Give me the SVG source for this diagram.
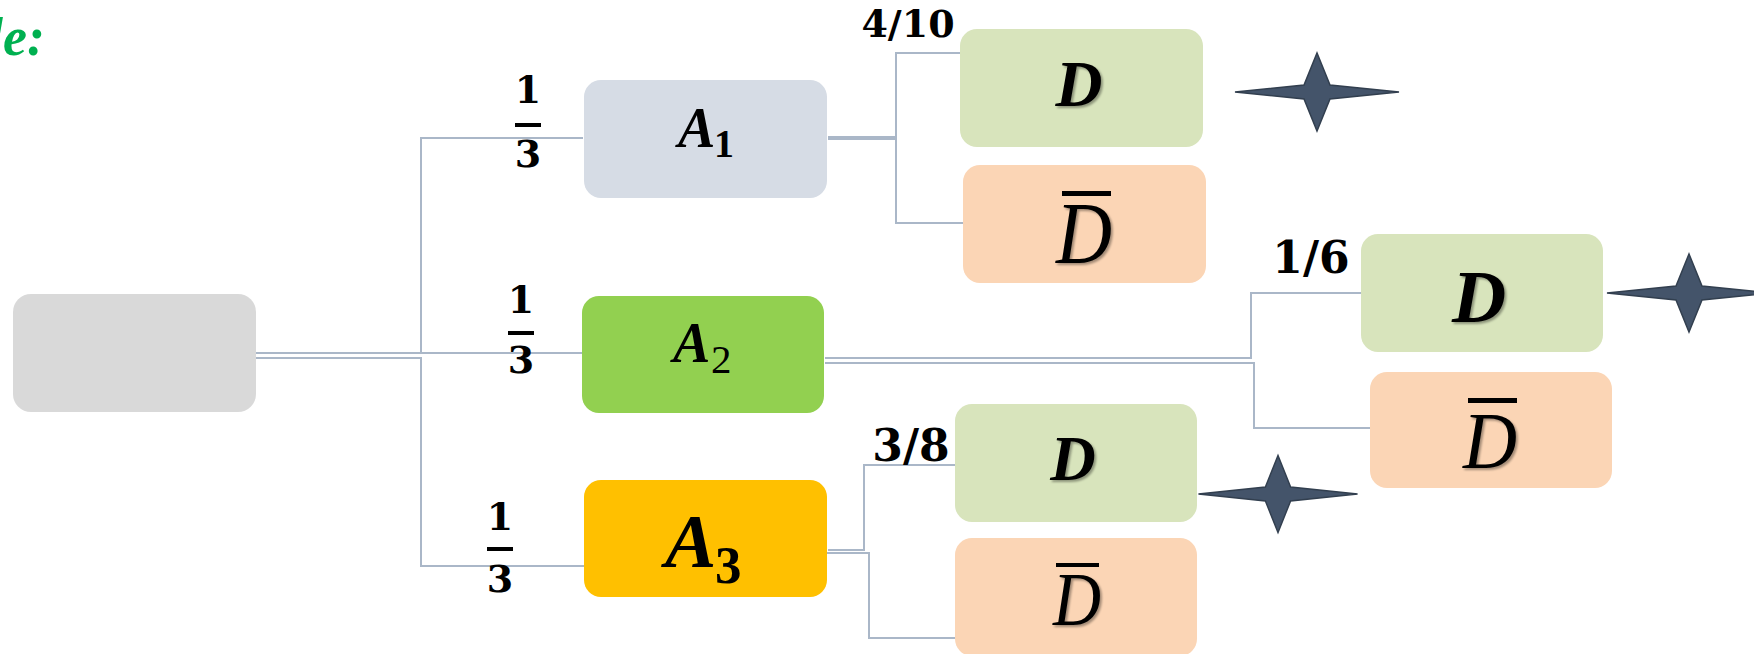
<svg xmlns="http://www.w3.org/2000/svg" width="1754" height="654" viewBox="0 0 1754 654">
<defs>
<style>
.conn{fill:none;stroke:#aab7c8;stroke-width:2}
.box{stroke:none}
.prob{font-family:"DejaVu Serif","Liberation Serif",serif;font-weight:bold;fill:#000;text-anchor:middle}
.math{font-family:"Liberation Serif","DejaVu Serif",serif;fill:#000}
.bi{font-weight:bold;font-style:italic}
.it{font-style:italic}
.star{fill:#44546a;stroke:#323f4f;stroke-width:1.5}
</style>
<filter id="sh" x="-20%" y="-20%" width="150%" height="150%">
<feDropShadow dx="2" dy="2" stdDeviation="1.2" flood-color="#000" flood-opacity="0.35"/>
</filter>
<path id="starShape" class="star" d="M-82,0 L-13,-7 L0,-39 L13,-7 L82,0 L13,7 L0,39 L-13,7 Z"/>
</defs>
<rect width="1754" height="654" fill="#ffffff"/>

<text x="45" y="55" font-family="Liberation Serif, serif" font-weight="bold" font-style="italic" font-size="54" fill="#00b050" text-anchor="end">le:</text>

<g id="connectors">
<path class="conn" d="M256,353 H421 V138 H583"/>
<path class="conn" d="M256,353 H583"/>
<path class="conn" d="M256,358 H421 V566 H584"/>
<path class="conn" d="M828,137 H896 V53 H961"/>
<path class="conn" d="M828,139 H896 V223 H964"/>
<path class="conn" d="M825,358 H1251 V293 H1362"/>
<path class="conn" d="M825,363 H1254 V428 H1371"/>
<path class="conn" d="M828,550 H864 V465 H963"/>
<path class="conn" d="M822,553 H869 V638 H956"/>
</g>

<g id="root">
<rect class="box" x="13" y="294" width="243" height="118" rx="18" fill="#d9d9d9"/>
</g>

<g id="A1">
<rect class="box" x="584" y="80" width="243" height="118" rx="17" fill="#d6dce5"/>
<text class="math bi" x="678" y="147" font-size="56">A</text>
<text class="math" x="714" y="157" font-size="40" font-weight="bold">1</text>
</g>
<g id="p1">
<text class="prob" x="528" y="103" font-size="38">1</text>
<rect x="515" y="123" width="26" height="4" fill="#000"/>
<text class="prob" x="528" y="167" font-size="38">3</text>
</g>

<g id="A2">
<rect class="box" x="582" y="296" width="242" height="117" rx="17" fill="#92d050"/>
<text class="math bi" x="673" y="362" font-size="56">A</text>
<text class="math" x="711" y="373" font-size="41">2</text>
</g>
<g id="p2">
<text class="prob" x="521" y="313" font-size="38">1</text>
<rect x="508" y="331" width="26" height="4" fill="#000"/>
<text class="prob" x="521" y="373" font-size="38">3</text>
</g>

<g id="A3">
<rect class="box" x="584" y="480" width="243" height="117" rx="17" fill="#ffc000"/>
<text class="math bi" x="665" y="567" font-size="77">A</text>
<text class="math" x="715" y="583" font-size="53" font-weight="bold">3</text>
</g>
<g id="p3">
<text class="prob" x="500" y="530" font-size="38">1</text>
<rect x="487" y="547" width="26" height="4" fill="#000"/>
<text class="prob" x="500" y="592" font-size="38">3</text>
</g>

<g id="D1">
<rect class="box" x="960" y="29" width="243" height="118" rx="17" fill="#d8e4bc"/>
<text class="math bi" x="1079" y="106" font-size="65" text-anchor="middle" filter="url(#sh)">D</text>
</g>
<g id="D1bar">
<rect class="box" x="963" y="165" width="243" height="118" rx="17" fill="#fbd5b5"/>
<rect x="1062" y="191" width="49" height="5" fill="#000"/>
<text class="math it" x="1084" y="263" font-size="88" text-anchor="middle" textLength="56" lengthAdjust="spacingAndGlyphs" filter="url(#sh)">D</text>
</g>
<text class="prob" x="908" y="37" font-size="38">4/10</text>

<g id="D2">
<rect class="box" x="1361" y="234" width="242" height="118" rx="17" fill="#d8e4bc"/>
<text class="math bi" x="1479" y="322" font-size="75" text-anchor="middle" filter="url(#sh)">D</text>
</g>
<g id="D2bar">
<rect class="box" x="1370" y="372" width="242" height="116" rx="17" fill="#fbd5b5"/>
<rect x="1468" y="398" width="49" height="5" fill="#000"/>
<text class="math it" x="1490" y="468" font-size="80" text-anchor="middle" textLength="54" lengthAdjust="spacingAndGlyphs" filter="url(#sh)">D</text>
</g>
<text class="prob" x="1311" y="273" font-size="44">1/6</text>

<g id="D3">
<rect class="box" x="955" y="404" width="242" height="118" rx="17" fill="#d8e4bc"/>
<text class="math bi" x="1073" y="480" font-size="63" text-anchor="middle" filter="url(#sh)">D</text>
</g>
<g id="D3bar">
<rect class="box" x="955" y="538" width="242" height="118" rx="17" fill="#fbd5b5"/>
<rect x="1056" y="563" width="43" height="4" fill="#000"/>
<text class="math it" x="1077" y="625" font-size="76" text-anchor="middle" textLength="48" lengthAdjust="spacingAndGlyphs" filter="url(#sh)">D</text>
</g>
<text class="prob" x="911" y="461" font-size="44">3/8</text>

<g id="stars">
<use href="#starShape" transform="translate(1317,92)"/>
<use href="#starShape" transform="translate(1689,293)"/>
<use href="#starShape" transform="translate(1278,494) scale(0.97,0.99)"/>
</g>
</svg>
